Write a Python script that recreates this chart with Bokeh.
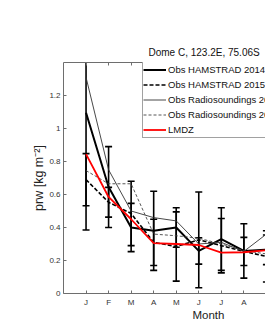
from bokeh.plotting import figure
from bokeh.models import Range1d, FixedTicker, LinearAxis, Title, Legend, LegendItem
from bokeh.embed import file_html
from bokeh.resources import INLINE

# ---- data (months J..S visible) ----
month_labels = ["J", "F", "M", "A", "M", "J", "J", "A", "S", "O", "N", "D"]
months = [1, 2, 3, 4, 5, 6, 7, 8, 9]

ham14 = [1.095, 0.645, 0.40, 0.38, 0.40, 0.258, 0.33, 0.258, 0.265]
ham14_sd = [0.71, 0.245, 0.146, 0.24, 0.12, 0.08, 0.19, 0.165, 0.09]
ham15 = [0.69, 0.553, 0.485, 0.31, 0.285, 0.325, 0.29, 0.255, 0.225]
ham15_sd = [0.158, 0.09, 0.195, 0.14, 0.21, 0.29, 0.165, 0.085, 0.155]
rs14 = [1.31, 0.75, 0.50, 0.46, 0.44, 0.30, 0.31, 0.255, 0.36]
rs15 = [0.745, 0.665, 0.665, 0.36, 0.35, 0.335, 0.30, 0.26, 0.24]
lmdz = [0.845, 0.585, 0.45, 0.305, 0.30, 0.294, 0.248, 0.25, 0.262]

y_ticks = [0, 0.2, 0.4, 0.6, 0.8, 1, 1.2]
y_tick_labels = ["0", "0.2", "0.4", "0.6", "0.8", "1", "1.2"]

FONT = "Liberation Sans"
AX = "#6e6e6e"

p = figure(width=265, height=325, output_backend="svg", toolbar_location=None,
           x_range=Range1d(0, 8.96), y_range=Range1d(0, 1.4),
           min_border_left=63, min_border_right=0, min_border_top=62,
           min_border_bottom=32)
p.outline_line_color = None
p.grid.visible = False

# axes
xa = p.xaxis[0]
xa.ticker = FixedTicker(ticks=list(range(1, 13)))
xa.major_label_overrides = {i + 1: m for i, m in enumerate(month_labels)}
ya = p.yaxis[0]
ya.ticker = FixedTicker(ticks=y_ticks)
ya.major_label_overrides = {t: l for t, l in zip(y_ticks, y_tick_labels)}
ya.axis_label = "prw [kg m\u207b\u00b2]"
ya.axis_label_text_font = FONT
ya.axis_label_text_font_size = "12.5px"
ya.axis_label_text_font_style = "normal"
ya.axis_label_text_color = "#222222"
for ax in (xa, ya):
    ax.axis_line_color = AX
    ax.major_tick_line_color = AX
    ax.major_tick_in = 3
    ax.major_tick_out = 0
    ax.minor_tick_line_color = None
    ax.major_label_text_font = FONT
    ax.major_label_text_font_size = "8px"
    ax.major_label_text_color = "#333333"
    ax.major_label_standoff = 4
ya.major_label_standoff = 3
ya.axis_label_standoff = 0

top = LinearAxis(ticker=FixedTicker(ticks=list(range(1, 13))),
                 major_label_overrides={i + 1: "" for i in range(12)},
                 major_label_text_font_size="8px", major_label_standoff=0,
                 axis_line_color=AX, major_tick_line_color=AX,
                 major_tick_in=3, major_tick_out=0, minor_tick_line_color=None)
p.add_layout(top, "above")

# title
p.title.text = "Dome C, 123.2E, 75.06S"
p.title.align = "left"
p.title.offset = 85
p.title.text_font = FONT
p.title.text_font_size = "10px"
p.title.text_font_style = "normal"
p.title.text_color = "#111111"

# x-axis label, centred under the full (wider, cropped) axes
p.add_layout(Title(text="Month", align="left", offset=129, standoff=-6,
                   text_font=FONT, text_font_size="11.5px",
                   text_font_style="normal", text_color="#222222"), "below")

# error bars
for mean, sd in ((ham14, ham14_sd), (ham15, ham15_sd)):
    lo = [m - s for m, s in zip(mean, sd)]
    hi = [m + s for m, s in zip(mean, sd)]
    p.segment(x0=months, y0=lo, x1=months, y1=hi, line_color="black", line_width=1.6)
    p.scatter(x=months + months, y=lo + hi, marker="dash", size=7,
              line_color="black", line_width=1.6)

# lines
r1 = p.line(months, ham14, line_color="black", line_width=2)
r2 = p.line(months, ham15, line_color="black", line_width=1.6, line_dash="4 2")
r3 = p.line(months, rs14, line_color="#333333", line_width=0.9)
r4 = p.line(months, rs15, line_color="#444444", line_width=0.9, line_dash="3 2")
r5 = p.line(months, lmdz, line_color="red", line_width=1.8)

legend = Legend(items=[
    LegendItem(label="Obs HAMSTRAD 2014", renderers=[r1]),
    LegendItem(label="Obs HAMSTRAD 2015", renderers=[r2]),
    LegendItem(label="Obs Radiosoundings 2014", renderers=[r3]),
    LegendItem(label="Obs Radiosoundings 2015", renderers=[r4]),
    LegendItem(label="LMDZ", renderers=[r5]),
], location=(79, 155))
legend.label_text_font = FONT
legend.label_text_font_size = "9.5px"
legend.label_text_color = "#111111"
legend.glyph_width = 23
legend.glyph_height = 15
legend.label_height = 15
legend.label_standoff = 2
legend.spacing = 0
legend.padding = 0
legend.margin = 0
legend.border_line_color = "#444444"
legend.border_line_width = 1
legend.background_fill_color = "white"
legend.background_fill_alpha = 1
p.add_layout(legend)

open("out.html", "w").write(file_html(p, INLINE))
